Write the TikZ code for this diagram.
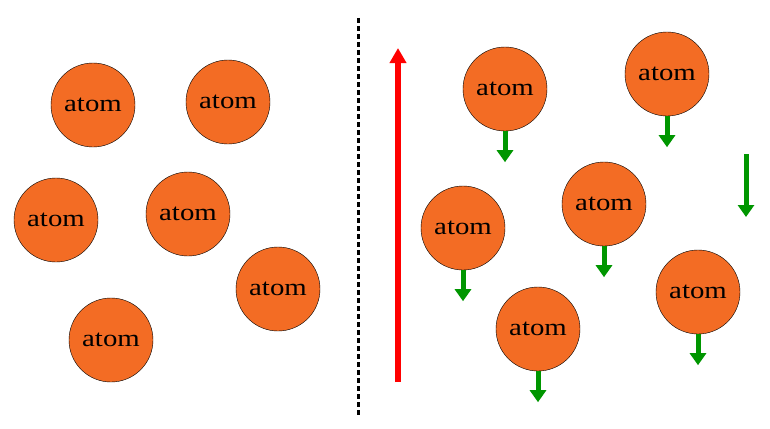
\documentclass[tikz,border=0pt]{standalone}
\usepackage{fontspec}
\setmainfont{Liberation Serif}
\usetikzlibrary{arrows.meta}
\definecolor{atomfill}{RGB}{243,108,36}
\definecolor{fallgreen}{RGB}{0,150,0}
\newcommand\atomlabel{\scalebox{1.2}[1]{atom}}

\begin{document}
\begin{tikzpicture}[x=1pt,y=-1pt,
  atom/.style={circle,draw=black,thin,fill=atomfill,minimum size=84pt,inner sep=0pt,font=\fontsize{24}{24}\selectfont},
  fall/.style={draw=fallgreen,line width=5pt,-{Triangle[width=16pt,length=12pt]}}]
\useasboundingbox (0,0) rectangle (770,428);
% left: atoms at rest
\node[atom] (l1) at (93,105) {\atomlabel};
\node[atom] (l2) at (228,102) {\atomlabel};
\node[atom] (l3) at (56,220) {\atomlabel};
\node[atom] (l4) at (188,214) {\atomlabel};
\node[atom] (l5) at (278,289) {\atomlabel};
\node[atom] (l6) at (111,340) {\atomlabel};
% divider
\coordinate (top) at (358,18);
\coordinate (bot) at (358,416);
\draw[line width=3pt,dash pattern=on 5pt off 3pt] (top) -- (bot);
% field arrow
\coordinate (fs) at (398,382);
\coordinate (fe) at (398,48);
\draw[red,line width=6pt,-{Triangle[width=16pt,length=15pt]}] (fs) -- (fe);
% right: atoms falling
\node[atom] (r1) at (505,89) {\atomlabel};
\node[atom] (r2) at (667,74) {\atomlabel};
\node[atom] (r3) at (463,228) {\atomlabel};
\node[atom] (r4) at (604,204) {\atomlabel};
\node[atom] (r5) at (538,329) {\atomlabel};
\node[atom] (r6) at (698,292) {\atomlabel};
\foreach \a in {r1,r2,r3,r4,r5,r6}
  \draw[fall] (\a.south) -- ++(0,31);
\coordinate (gs) at (746,154);
\coordinate (ge) at (746,217);
\draw[fall] (gs) -- (ge);
\end{tikzpicture}
\end{document}
